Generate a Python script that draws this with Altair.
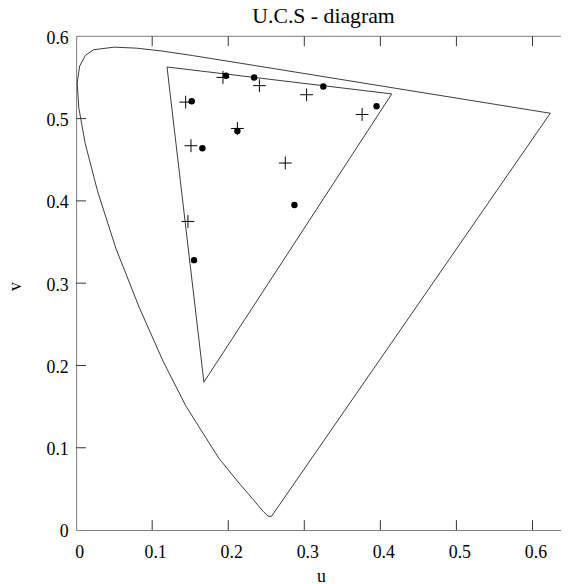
import altair as alt
import pandas as pd

# CIE 1976 u'v' spectral locus (closed by the purple line back to the start)
locus_u = [0.2568, 0.2522, 0.2461, 0.2347, 0.2161, 0.1877, 0.1441, 0.1147, 0.0828,
           0.0521, 0.0282, 0.0119, 0.0035, 0.0014, 0.0046, 0.0123, 0.0231, 0.0501,
           0.0792, 0.1127, 0.1531, 0.2623, 0.4035, 0.5203, 0.6005, 0.6234, 0.2568]
locus_v = [0.0166, 0.0169, 0.0226, 0.0350, 0.0549, 0.0871, 0.1510, 0.2044, 0.2708,
           0.3427, 0.4117, 0.4698, 0.5131, 0.5432, 0.5638, 0.5770, 0.5837, 0.5868,
           0.5856, 0.5821, 0.5766, 0.5604, 0.5393, 0.5219, 0.5099, 0.5065, 0.0166]

# inner gamut triangle (closed)
tri_u = [0.1195, 0.415, 0.168, 0.1195]
tri_v = [0.5627, 0.530, 0.1797, 0.5627]

# filled dots
dot_u = [0.197, 0.234, 0.325, 0.395, 0.152, 0.212, 0.166, 0.287, 0.155]
dot_v = [0.552, 0.550, 0.539, 0.515, 0.521, 0.485, 0.464, 0.395, 0.328]

# crosses
cross_u = [0.193, 0.241, 0.303, 0.376, 0.144, 0.212, 0.151, 0.275, 0.147]
cross_v = [0.550, 0.540, 0.529, 0.505, 0.520, 0.488, 0.467, 0.446, 0.375]

x_ticks = [0, 0.1, 0.2, 0.3, 0.4, 0.5, 0.6]
y_ticks = [0, 0.1, 0.2, 0.3, 0.4, 0.5, 0.6]
x_inner_ticks = [0.1, 0.2, 0.3, 0.4, 0.5, 0.6]
y_inner_ticks = [0.1, 0.2, 0.3, 0.4, 0.5]

W, H = 491, 500
FONT = "Liberation Serif"
XMAX = 0.6375

locus = pd.DataFrame({"u": locus_u, "v": locus_v, "i": range(len(locus_u))})
tri = pd.DataFrame({"u": tri_u, "v": tri_v, "i": range(len(tri_u))})
dots = pd.DataFrame({"u": dot_u, "v": dot_v})
crosses = pd.DataFrame({"u": cross_u, "v": cross_v})

xs = alt.Scale(domain=[0, XMAX], nice=False, zero=False)
ys = alt.Scale(domain=[0, 0.6], nice=False, zero=False)

xaxis = alt.Axis(values=x_ticks, format="~g", ticks=False, tickSize=0, grid=False,
                 domainColor="#7a7a7a", labelFontSize=18,
                 labelColor="black", labelPadding=14, labelOffset=3,
                 title="u", titleFontSize=18, titleFontWeight="normal",
                 titleColor="black",
                 titleX=248, titleY=52, titleBaseline="alphabetic", titleAlign="center",
                 labelFlush=False)
yaxis = alt.Axis(values=y_ticks, format="~g", ticks=False, tickSize=0, grid=False,
                 domainColor="#7a7a7a", labelFontSize=18,
                 labelColor="black", labelPadding=8, labelOffset=2,
                 title="v", titleFontSize=18, titleFontWeight="normal",
                 titleColor="black",
                 titleX=-61, titleY=253, titleBaseline="middle", titleAlign="center",
                 labelFlush=False)

locus_line = alt.Chart(locus).mark_line(color="#3a3a3a", strokeWidth=1).encode(
    x=alt.X("u:Q", scale=xs, axis=xaxis),
    y=alt.Y("v:Q", scale=ys, axis=yaxis),
    order="i:O",
)
tri_line = alt.Chart(tri).mark_line(color="#3a3a3a", strokeWidth=1).encode(
    x=alt.X("u:Q", scale=xs), y=alt.Y("v:Q", scale=ys), order="i:O"
)
dot_pts = alt.Chart(dots).mark_point(shape="circle", filled=True, color="black",
                                     size=42, opacity=1).encode(
    x=alt.X("u:Q", scale=xs), y=alt.Y("v:Q", scale=ys)
)
cross_pts = alt.Chart(crosses).mark_point(shape="M-1,0L1,0M0,-1L0,1", filled=False,
                                          color="black", strokeWidth=1, size=169,
                                          opacity=1).encode(
    x=alt.X("u:Q", scale=xs), y=alt.Y("v:Q", scale=ys)
)

xt = pd.DataFrame({"t": x_inner_ticks})
yt = pd.DataFrame({"t": y_inner_ticks})
bottom_ticks = alt.Chart(xt).mark_rule(color="#333333", strokeWidth=1).encode(
    x=alt.X("t:Q", scale=xs), y=alt.value(H), y2=alt.value(H - 10)
)
top_ticks = alt.Chart(xt).mark_rule(color="#333333", strokeWidth=1).encode(
    x=alt.X("t:Q", scale=xs), y=alt.value(0), y2=alt.value(10)
)
left_ticks = alt.Chart(yt).mark_rule(color="#333333", strokeWidth=1).encode(
    y=alt.Y("t:Q", scale=ys), x=alt.value(0), x2=alt.value(10)
)
top_border = alt.Chart(pd.DataFrame({"a": [0]})).mark_rule(
    color="#7a7a7a", strokeWidth=1).encode(
    x=alt.value(0), x2=alt.value(W + 5), y=alt.value(0)
)

chart = alt.layer(
    locus_line, tri_line, top_border, bottom_ticks, top_ticks, left_ticks,
    cross_pts, dot_pts
).properties(
    width=W, height=H,
    title=alt.TitleParams("U.C.S - diagram", fontSize=22,
                          fontWeight="normal", color="black", dx=5, dy=16, offset=0,
                          baseline="alphabetic"),
    autosize=alt.AutoSizeParams(type="none"),
    padding={"left": 69, "top": 25, "right": 0, "bottom": 52},
).configure(
    background="white", font=FONT
).configure_axis(
    labelFont=FONT, titleFont=FONT
).configure_title(
    font=FONT, fontSize=22
).configure_view(stroke=None)

chart.save("out.html", embed_options={"renderer": "svg", "actions": False})
